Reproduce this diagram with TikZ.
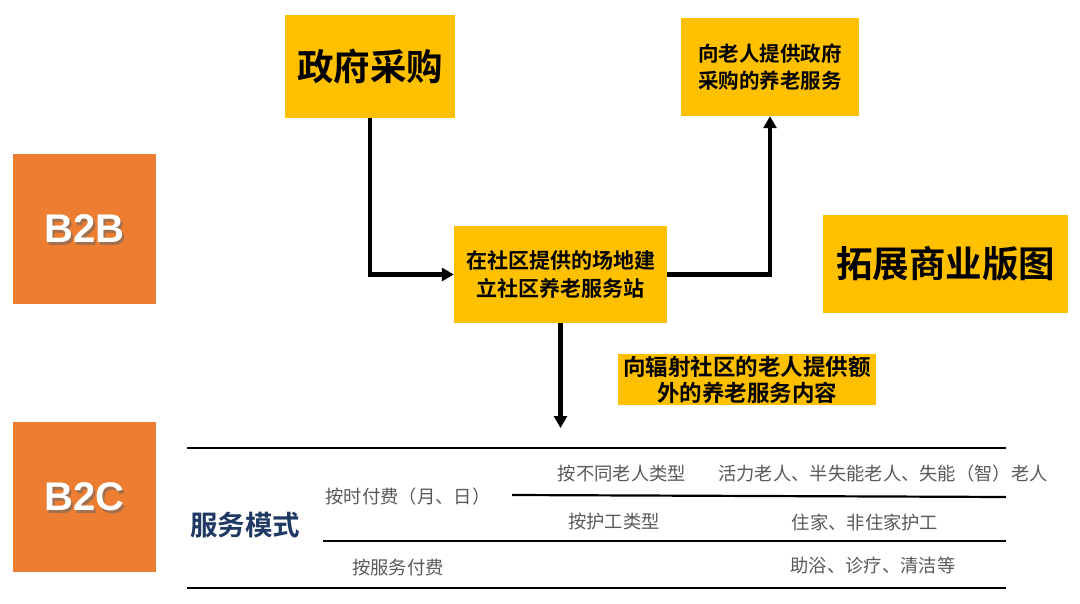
\documentclass[tikz,border=0pt]{standalone}
\usepackage{fontspec}
\setmainfont{Liberation Sans}
\newfontfamily\cjk{Noto Sans CJK SC}
\newfontfamily\cjkb{Noto Sans CJK SC Bold}
\newfontfamily\latb{Liberation Sans}
\usetikzlibrary{arrows.meta}
\definecolor{org}{HTML}{ED7D31}
\definecolor{yel}{HTML}{FFC000}
\definecolor{gtxt}{HTML}{595959}
\definecolor{navy}{HTML}{1F3864}
\tikzset{
  ybox/.style={fill=yel, draw=none, inner sep=0pt, align=center},
  obox/.style={fill=org, draw=none, inner sep=0pt},
  flow/.style={line width=4.3pt, -{Triangle[length=12pt,width=13pt]}},
  rule/.style={line width=2.2pt},
  gray/.style={text=gtxt, font=\cjk\fontsize{18.3}{21}\selectfont, inner sep=0pt},
  btxt/.style={font=\latb\bfseries\fontsize{40}{44}\selectfont, inner sep=0pt}
}
\begin{document}
\begin{tikzpicture}[x=1pt,y=-1pt]
\useasboundingbox (0,0) rectangle (1080,604);
% B2B / B2C boxes
\node[obox, minimum width=143pt, minimum height=150pt] (b2b) at (84.5,229) {};
\node[btxt, text=black!60, opacity=0.55] at (86.5,231.5) {B2B};
\node[btxt, text=white] (b2bt) at (84.5,229) {B2B};
\node[obox, minimum width=143pt, minimum height=150pt] (b2c) at (84.5,497) {};
\node[btxt, text=black!60, opacity=0.55] at (86.5,499.5) {B2C};
\node[btxt, text=white] (b2ct) at (84.5,497) {B2C};
% yellow boxes
\node[ybox, minimum width=170pt, minimum height=103pt, font=\cjkb\fontsize{36.5}{40}\selectfont] (gov) at (370,66.5) {政府采购};
\node[ybox, minimum width=178pt, minimum height=98pt, font=\cjkb\fontsize{20.5}{27}\selectfont] (serv) at (770,67) {向老人提供政府\\采购的养老服务};
\node[ybox, minimum width=213pt, minimum height=97pt, font=\cjkb\fontsize{21}{28}\selectfont] (stat) at (560.5,274.5) {在社区提供的场地建\\立社区养老服务站};
\node[ybox, minimum width=245pt, minimum height=98pt, font=\cjkb\fontsize{36.5}{40}\selectfont] (biz) at (945.5,264) {拓展商业版图};
\node[ybox, minimum width=258pt, minimum height=51pt, font=\cjkb\fontsize{22.5}{26}\selectfont] (extra) at (747,379.5) {向辐射社区的老人提供额\\外的养老服务内容};
% arrows
\coordinate (down) at (560.5,428);
\draw[flow] (gov.south) |- (stat.west);
\draw[flow] (stat.east) -| (serv.south);
\draw[flow] (stat.south) -- (down);
% table rules
\coordinate (r1a) at (187,448); \coordinate (r1b) at (1006,448);
\coordinate (r2a) at (512,495); \coordinate (r2b) at (1006,497);
\coordinate (r3a) at (323,541); \coordinate (r3b) at (1006,541);
\coordinate (r4a) at (187,588); \coordinate (r4b) at (1006,588);
\draw[rule] (r1a) -- (r1b);
\draw[rule] (r2a) -- (r2b);
\draw[rule] (r3a) -- (r3b);
\draw[rule] (r4a) -- (r4b);
% table text
\node[text=navy, font=\cjkb\fontsize{27.5}{30}\selectfont, inner sep=0pt] (mode) at (245,525) {服务模式};
\node[gray] (t1) at (408,497) {按时付费（月、日）};
\node[gray] (t2) at (622,474) {按不同老人类型};
\node[gray] (t3) at (883,474) {活力老人、半失能老人、失能（智）老人};
\node[gray] (t4) at (614,522) {按护工类型};
\node[gray] (t5) at (865,522) {住家、非住家护工};
\node[gray] (t6) at (398,568) {按服务付费};
\node[gray] (t7) at (873,566) {助浴、诊疗、清洁等};
\end{tikzpicture}
\end{document}
